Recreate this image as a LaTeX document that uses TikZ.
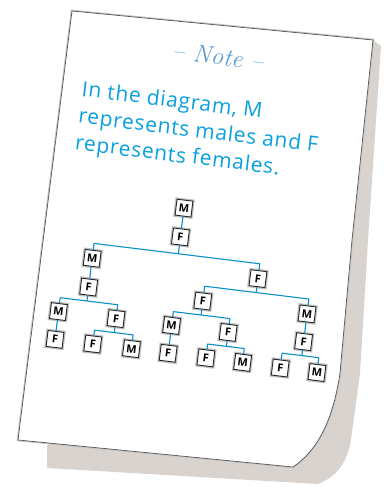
\documentclass[tikz,border=0pt]{standalone}
\usepackage{fontspec}
\setsansfont{Open Sans}
\usetikzlibrary{calc}
\definecolor{Sky}{HTML}{0AA0E0}
\definecolor{Steel}{HTML}{5A9CD2}
\definecolor{Shade}{HTML}{D9D3CF}
\definecolor{Edge}{HTML}{5A5552}
\begin{document}
\begin{tikzpicture}[x=1pt,y=-1pt,
    sheet/.style={fill=white,draw=Edge,line width=0.7pt,preaction={draw=gray!45,line width=2.6pt}},
    tbox/.style={draw=black!85,line width=0.9pt,fill=white,minimum size=16pt,inner sep=0pt,
      preaction={draw=gray!50,line width=3.4pt},font=\sffamily\bfseries\fontsize{11}{11}\selectfont},
    link/.style={draw=Sky!90!black,line width=1.1pt}]
  \useasboundingbox (0,0) rectangle (388,487);
  % shadow and sheet
  \fill[Shade] (47,446) -- (47,468) -- (318,484) .. controls (338,476) and (347,462) .. (351,440)
    -- (360,373) -- (368,240) -- (381,46) -- (373,40) -- cycle;
  \path[sheet] (72,11) -- (373,40) -- (352,240) -- (340,373)
    .. controls (333,420) and (318,450) .. (293,467) -- (18,440) -- cycle;
  % heading and text
  \node[rotate=-7,text=Steel,font=\itshape\fontsize{25}{25}\selectfont] (note) at (218,56) {--\,\,Note\,\,--};
  \node[rotate=-7,anchor=north west,inner sep=0pt,align=left,text=Sky,
    font=\sffamily\fontsize{21}{27}\selectfont\addfontfeature{LetterSpace=3.5}] (txt) at (83,80)
    {In the diagram, M\\represents males and F\\represents females.};
  % family tree
  \begin{scope}[shift={(183,208)},rotate=-7,transform shape]
    \node[tbox] (rm) at (1,0) {M};
    \node[tbox] (rf) at (1,29) {F};
    \node[tbox] (ma) at (-84,61) {M};
    \node[tbox] (fa) at (-84,90) {F};
    \node[tbox] (fb) at (83,61) {F};
    \node[tbox] (mc) at (-111,118) {M};
    \node[tbox] (fc) at (-111,146) {F};
    \node[tbox] (fd) at (-53,118) {F};
    \node[tbox] (fe) at (-73,146) {F};
    \node[tbox] (me) at (-34,146) {M};
    \node[tbox] (ff) at (31,90) {F};
    \node[tbox] (mg) at (136,90) {M};
    \node[tbox] (mh) at (3,118) {M};
    \node[tbox] (fh) at (3,146) {F};
    \node[tbox] (fi) at (60,118) {F};
    \node[tbox] (fj) at (41,146) {F};
    \node[tbox] (mj) at (78,146) {M};
    \node[tbox] (fk) at (136,118) {F};
    \node[tbox] (fl) at (116,147) {F};
    \node[tbox] (ml) at (153,147) {M};
    \foreach \u/\v in {rm/rf,ma/fa,mc/fc,mh/fh,mg/fk}\draw[link] (\u)--(\v);
    \foreach \p/\a/\b/\pu/\au/\bu/\h in {rf/ma/fb/1/-84/83/46,fa/mc/fd/-84/-111/-53/104,
        fd/fe/me/-53/-73/-34/132,fb/ff/mg/83/31/136/75,ff/mh/fi/31/3/60/104,
        fi/fj/mj/60/41/78/132,fk/fl/ml/136/116/153/132}{
      \coordinate (\p-j) at (\pu,\h);
      \coordinate (\a-j) at (\au,\h);
      \coordinate (\b-j) at (\bu,\h);
      \draw[link] (\p.south)--(\p-j) (\a-j)--(\b-j) (\a-j)--(\a.north) (\b-j)--(\b.north);
    }
  \end{scope}
\end{tikzpicture}
\end{document}
